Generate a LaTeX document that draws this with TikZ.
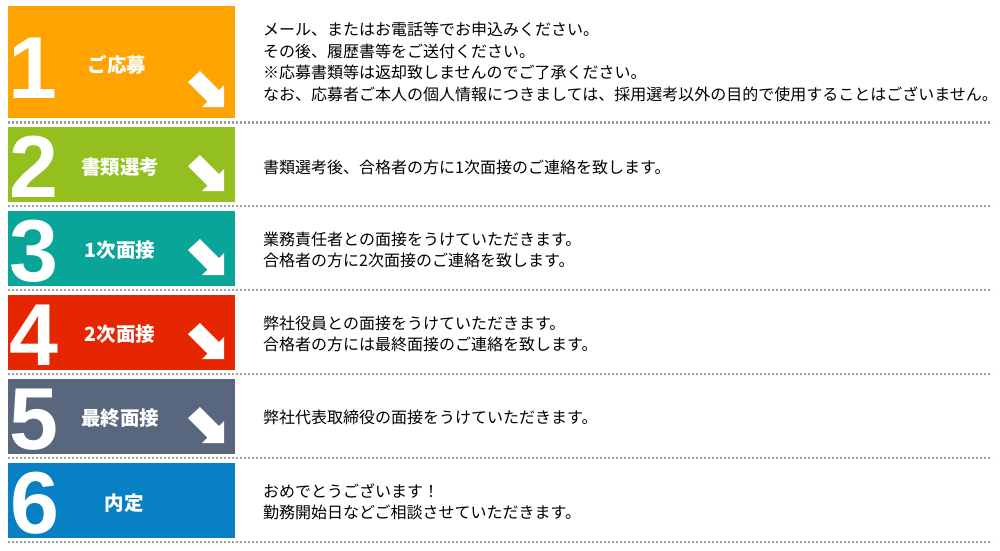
\documentclass[tikz,border=0pt]{standalone}
\usepackage{fontspec}
\setmainfont{Liberation Sans}
\newfontfamily\cjk{Noto Sans CJK JP}
\newfontfamily\numfont{Liberation Sans}
\definecolor{cOne}{RGB}{255,163,0}
\definecolor{cTwo}{RGB}{147,192,31}
\definecolor{cThree}{RGB}{8,165,152}
\definecolor{cFour}{RGB}{230,38,0}
\definecolor{cFive}{RGB}{88,103,126}
\definecolor{cSix}{RGB}{7,128,196}
\definecolor{dotgray}{RGB}{160,160,160}
\begin{document}
\begin{tikzpicture}[x=1pt,y=-1pt,
  stepbox/.style={draw=none,inner sep=0pt,outer sep=0pt,minimum width=227pt,anchor=north west},
  bignum/.style={text=white,inner sep=0pt,anchor=base,font=\numfont\bfseries\fontsize{88}{88}\selectfont},
  steplabel/.style={text=white,inner sep=0pt,font=\cjk\bfseries\fontsize{19.5}{19.5}\selectfont},
  desc/.style={inner sep=0pt,anchor=west,align=left,font=\cjk\fontsize{16}{21.5}\selectfont},
  sep/.style={draw=dotgray,line width=2.3pt,dash pattern=on 2pt off 2pt},
  arrowshape/.style={fill=white,draw=none}
]
\useasboundingbox (0,0) rectangle (1000,550);

% boxes
\node[stepbox,fill=cOne,minimum height=112pt] (b1) at (8,6) {};
\node[stepbox,fill=cTwo,minimum height=75pt] (b2) at (8,127) {};
\node[stepbox,fill=cThree,minimum height=75pt] (b3) at (8,211) {};
\node[stepbox,fill=cFour,minimum height=75pt] (b4) at (8,295) {};
\node[stepbox,fill=cFive,minimum height=75pt] (b5) at (8,379) {};
\node[stepbox,fill=cSix,minimum height=75pt] (b6) at (8,463) {};

% numbers
\node[bignum] (n1) at (33,98) {1};
\node[bignum] (n2) at (34,197) {2};
\node[bignum] (n3) at (34,281) {3};
\node[bignum] (n4) at (34,365) {4};
\node[bignum] (n5) at (34,449) {5};
\node[bignum] (n6) at (35,533) {6};

% labels
\node[steplabel] (l1) at (117,65) {ご応募};
\node[steplabel] (l2) at (120,167) {書類選考};
\node[steplabel] (l3) at (120,250) {1次面接};
\node[steplabel] (l4) at (120,334) {2次面接};
\node[steplabel] (l5) at (120,418) {最終面接};
\node[steplabel] (l6) at (124,503) {内定};

% arrows
\foreach \b in {b1,b2,b3,b4,b5}{
  \coordinate (tip) at ([xshift=-11pt,yshift=11pt]\b.south east);
  \fill[arrowshape] (tip) ++(-36,-25) -- ++(12,-11) -- ++(19,19) -- ++(5,-5)
     -- ++(0,22) -- ++(-22,0) -- ++(5.5,-5.5) -- cycle;
}

% descriptions
\node[desc] (d1) at (263,62) {メール、またはお電話等でお申込みください。\\その後、履歴書等をご送付ください。\\※応募書類等は返却致しませんのでご了承ください。\\なお、応募者ご本人の個人情報につきましては、採用選考以外の目的で使用することはございません。};
\node[desc] (d2) at (263,167) {書類選考後、合格者の方に1次面接のご連絡を致します。};
\node[desc] (d3) at (263,250) {業務責任者との面接をうけていただきます。\\合格者の方に2次面接のご連絡を致します。};
\node[desc] (d4) at (263,334) {弊社役員との面接をうけていただきます。\\合格者の方には最終面接のご連絡を致します。};
\node[desc] (d5) at (263,417) {弊社代表取締役の面接をうけていただきます。};
\node[desc] (d6) at (263,502) {おめでとうございます！\\勤務開始日などご相談させていただきます。};

% separators
\foreach \y in {122.5,206,290,374,458,542}{
  \draw[sep] (8,\y) -- (992,\y);
}
\end{tikzpicture}
\end{document}
